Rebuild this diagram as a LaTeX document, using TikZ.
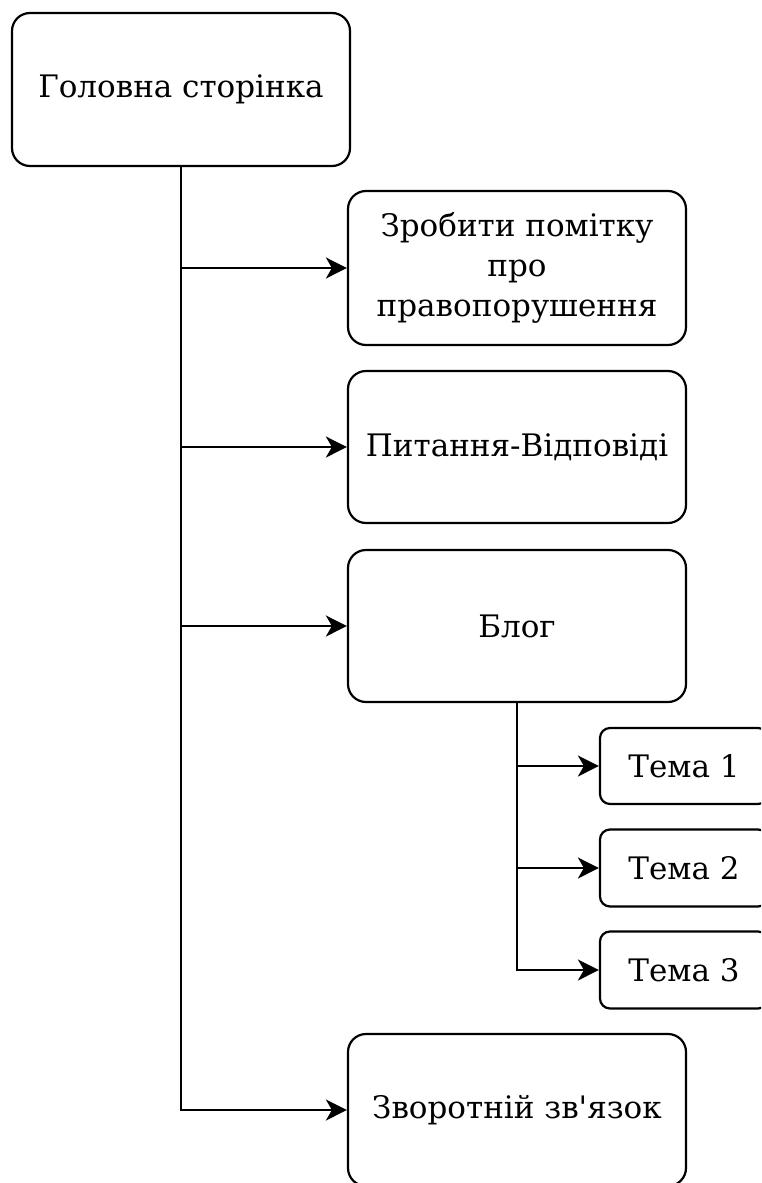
\documentclass[tikz,border=0pt]{standalone}
\usepackage{fontspec}
\setmainfont{DejaVu Serif}[Ligatures=TeXOff]
\usetikzlibrary{arrows.meta}
\tikzset{
  bigbox/.style={draw, line width=2.2pt, rounded corners=18pt, minimum width=338pt, minimum height=153pt, align=center, inner sep=2pt, font=\fontsize{31}{40}\selectfont},
  smallbox/.style={draw, line width=2.2pt, rounded corners=10pt, minimum width=168pt, minimum height=76pt, align=center, inner sep=2pt, font=\fontsize{31}{40}\selectfont},
  arr/.style={line width=2.2pt, -{Stealth[length=21pt,width=21pt,inset=6pt]}},
}
\begin{document}
\begin{tikzpicture}[x=1pt,y=-1pt]
\useasboundingbox (0,0) rectangle (761,1183);
\clip (0,0) rectangle (761,1183);
\node[bigbox] (home) at (181,89.5) {Головна сторінка};
\node[bigbox, minimum height=154pt] (mark) at (517,268) {Зробити помітку\\про\\правопорушення};
\node[bigbox, minimum height=152pt] (qa) at (517,447) {Питання-Відповіді};
\node[bigbox, minimum height=152pt] (blog) at (517,626) {Блог};
\node[smallbox] (t1) at (684,766) {Тема 1};
\node[smallbox, minimum height=77pt] (t2) at (684,868) {Тема 2};
\node[smallbox, minimum height=77pt] (t3) at (684,970) {Тема 3};
\node[bigbox, minimum height=152pt] (fb) at (517,1110) {Зворотній зв'язок};
\draw[arr] (home.south) |- (mark.west);
\draw[arr] (home.south) |- (qa.west);
\draw[arr] (home.south) |- (blog.west);
\draw[arr] (home.south) |- (fb.west);
\draw[arr] (blog.south) |- (t1.west);
\draw[arr] (blog.south) |- (t2.west);
\draw[arr] (blog.south) |- (t3.west);
\end{tikzpicture}
\end{document}
